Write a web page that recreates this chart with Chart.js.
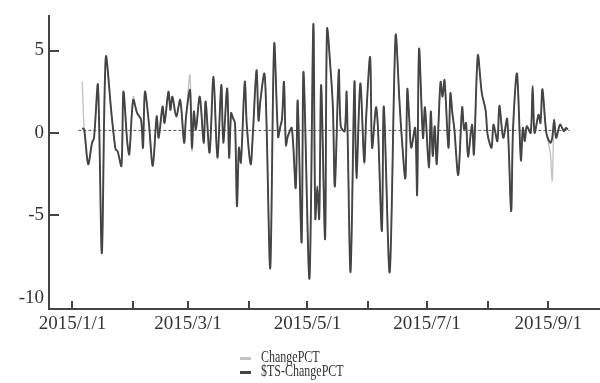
<!DOCTYPE html>
<html>
<head>
<meta charset="utf-8">
<script src="https://cdn.jsdelivr.net/npm/chart.js@4.4.1/dist/chart.umd.min.js"></script>
<style>
  body { margin: 0; background: #fff; }
  #wrap { position: relative; width: 600px; height: 383px; }
  #legend { position: absolute; left: 240px; top: 350px; font-family: "Liberation Serif", serif; font-size: 12px; color: #333; }
  .item { height: 14px; line-height: 14px; white-space: nowrap; }
  .swatch { display: inline-block; width: 11px; height: 3px; vertical-align: middle; margin-right: 10px; }
  .label { display: inline-block; transform: scaleY(1.35); }
</style>
</head>
<body>
<div id="wrap">
  <canvas id="chart" width="600" height="383"></canvas>
  <div id="legend"></div>
</div>
<script>
// days counted from 2015/1/1 (day 0)
let days = [
  5, 6, 8, 10, 11, 13, 15, 17, 20, 22, 23, 25, 26, 28, 29,
  31, 33, 35, 36, 37, 39, 41, 43, 44, 46, 47, 49, 50, 51, 53, 55, 57, 58,
  60, 61, 62, 63, 65, 67, 68, 70, 72, 74, 76, 77, 79, 80, 81, 82, 83, 84, 85, 86, 88,
  89, 91, 92, 94, 95, 96, 98, 99, 101, 103, 105, 106, 107, 108, 109, 110, 112, 114, 115, 117, 118,
  121, 123, 124, 125, 126, 127, 129, 130, 132, 133, 134, 136, 137, 139, 140, 142, 144, 145, 147, 149,
  150, 152, 153, 155, 156, 158, 159, 162, 165, 167, 168, 170, 171, 172, 173, 175, 176, 177, 179,
  180, 182, 183, 184, 185, 186, 187, 188, 189, 190, 192, 193, 194, 195, 197, 199, 200, 201, 202, 204, 205, 207, 209,
  211, 212, 214, 215, 217, 218, 220, 222, 224, 225, 227, 229, 230, 231, 232, 234, 235, 236, 238, 239,
  240, 242, 244, 245, 246, 247, 249, 251, 252, 253
]

// ChangePCT (light line)
let changePct = [
  3.1, 0.2, -1.9, -0.6, -0.3, 2.9, -7.3, 4.6, 1.05, -1.0, -1.1, -2.0, 2.5, -0.6, -1.3,
  2.2, 1.2, 0.8, -0.9, 2.5, 0.6, -2.0, 1.0, -0.3, 1.6, 0.6, 2.5, 1.4, 2.2, 1.0, 2.0, -0.6, 1.0,
  3.5, -1.1, 1.3, 0.2, 2.2, -0.6, 1.9, -1.2, 3.4, -1.5, 2.9, -0.6, 2.7, -1.5, 1.2, 0.9, 0.6, -4.45, -1.0, -1.8, 3.1,
  0.5, -1.9, -0.3, 3.8, 0.75, 2.0, 3.6, 1.0, -8.2, 5.4, -0.25, 0.3, 0.85, 3.1, -0.75, -0.2, 0.3, -3.35, 1.95, -6.65, 3.7,
  -8.85, 6.6, -5.2, -3.25, -5.2, 2.9, -6.45, 6.3, 3.5, 1.5, -3.25, 3.8, 0.4, 0.1, 2.45, -8.45, 3.1, -2.75, 3.0, -1.9,
  1.0, 4.6, -0.9, 1.55, 0.3, -5.95, 1.6, -8.45, 5.9, 1.9, 0.0, -2.75, 2.65, 0.8, -0.9, 0.3, -3.75, 5.1, -0.3,
  1.55, -2.1, 1.3, -1.4, 0.4, -1.9, 0.8, 3.1, 2.2, 3.2, -0.9, 2.4, 1.2, 0.25, -2.55, 1.55, 0.2, 0.6, -1.45, 0.5, -1.3, 4.7, 2.45,
  1.35, -0.1, -0.9, 0.5, -0.5, 1.65, -0.3, 0.85, -4.75, 0.3, 3.6, -1.65, 0.3, -0.5, 0.4, 0.0, 2.85, 0.0, 1.1, 0.6,
  2.65, 0.0, -1.2, -2.9, 0.8, -0.3, 0.5, 0.1, 0.3, 0.2
]

// $TS-ChangePCT (dark line)
let tsChangePct = [
  0.3, 0.2, -1.9, -0.6, -0.3, 2.9, -7.3, 4.6, 1.05, -1.0, -1.1, -2.0, 2.5, -0.6, -1.3,
  2.0, 1.2, 0.8, -0.9, 2.5, 0.6, -2.0, 1.0, -0.3, 1.6, 0.6, 2.5, 1.4, 2.2, 1.0, 2.0, -0.6, 1.0,
  2.6, -0.9, 1.3, 0.2, 2.2, -0.6, 1.9, -1.2, 3.4, -1.5, 2.9, -0.6, 2.7, -1.5, 1.2, 0.9, 0.6, -4.45, -0.9, -1.8, 3.1,
  0.5, -1.9, -0.3, 3.8, 0.75, 2.0, 3.6, 1.0, -8.2, 5.4, -0.25, 0.3, 0.85, 3.1, -0.75, -0.2, 0.3, -3.35, 1.95, -6.65, 3.7,
  -8.85, 6.6, -5.2, -3.25, -5.2, 2.9, -6.45, 6.3, 3.5, 1.5, -3.25, 3.8, 0.4, 0.1, 2.45, -8.45, 3.1, -2.75, 3.0, -1.75,
  1.0, 4.6, -0.9, 1.55, 0.3, -5.95, 1.6, -8.45, 5.9, 1.9, 0.0, -2.75, 2.65, 0.8, -0.9, 0.3, -3.75, 5.1, -0.3,
  1.55, -2.1, 1.3, -1.4, 0.4, -1.9, 0.8, 3.1, 2.2, 3.2, -0.9, 2.4, 1.2, 0.25, -2.55, 1.55, 0.2, 0.6, -1.45, 0.5, -1.3, 4.7, 2.45,
  1.35, -0.1, -0.9, 0.5, -0.5, 1.65, -0.3, 0.85, -4.75, 0.3, 3.6, -1.65, 0.3, -0.5, 0.4, 0.0, 2.85, 0.0, 1.1, 0.6,
  2.65, 0.0, -0.6, -0.3, 0.8, -0.3, 0.5, 0.1, 0.3, 0.2
]

// dotted reference line across the data range
let baselineDays = [3, 254]
let baselineValues = [0.15, 0.15]

// month starts on the x axis and which of them get a label
let monthStarts = [0, 31, 59, 90, 120, 151, 181, 212, 243]
let monthLabels = ['2015/1/1', '', '2015/3/1', '', '2015/5/1', '', '2015/7/1', '', '2015/9/1']
let yTicks = [-10, -5, 0, 5]

let seriesNames = ['ChangePCT', '$TS-ChangePCT']
let seriesColors = ['#c4c4c4', '#444444']

function toPoints(xs, ys) {
    return xs.map(function(x, i) { return { x: x, y: ys[i] } })
}

// tick marks drawn inside the plot, like the original
let inwardTicks = {
    id: 'inwardTicks',
    afterDraw: function(chart) {
        let ctx = chart.ctx
        let xs = chart.scales.x
        let ys = chart.scales.y
        ctx.save()
        ctx.strokeStyle = '#444'
        ctx.lineWidth = 2
        ctx.beginPath()
        xs.ticks.forEach(function(t) {
            let px = Math.round(xs.getPixelForValue(t.value))
            ctx.moveTo(px, xs.top)
            ctx.lineTo(px, xs.top - 8)
        })
        ys.ticks.forEach(function(t) {
            if (t.value === -10) return
            let py = Math.round(ys.getPixelForValue(t.value))
            ctx.moveTo(ys.right, py)
            ctx.lineTo(ys.right + 10, py)
        })
        ctx.stroke()
        ctx.restore()
    }
}

let ctx = document.querySelector('#chart').getContext('2d')

let chart = new Chart(ctx, {
    type: 'line',
    data: {
        datasets: [
            {
                label: seriesNames[0],
                data: toPoints(days, changePct),
                borderColor: seriesColors[0],
                borderWidth: 1.4,
                pointRadius: 0,
                tension: 0.3,
                order: 2
            },
            {
                label: seriesNames[1],
                data: toPoints(days, tsChangePct),
                borderColor: seriesColors[1],
                borderWidth: 1.9,
                pointRadius: 0,
                tension: 0.3,
                order: 1
            },
            {
                label: 'baseline',
                data: toPoints(baselineDays, baselineValues),
                borderColor: '#555',
                borderWidth: 1,
                borderDash: [3, 2],
                pointRadius: 0,
                order: 3
            }
        ]
    },
    options: {
        responsive: false,
        animation: false,
        layout: { padding: { left: 0, right: 0, top: 12, bottom: 48 } },
        plugins: {
            legend: { display: false },
            tooltip: { enabled: false }
        },
        scales: {
            x: {
                type: 'linear',
                min: -12,
                max: 269.4,
                grid: { display: false, drawTicks: false },
                border: { display: true, color: '#444', width: 2 },
                afterBuildTicks: function(scale) {
                    scale.ticks = monthStarts.map(function(v) { return { value: v } })
                },
                afterFit: function(scale) { scale.height = 26 },
                ticks: {
                    autoSkip: false,
                    maxRotation: 0,
                    padding: 4,
                    color: '#333',
                    font: { family: 'Liberation Serif', size: 19 },
                    callback: function(value) {
                        let i = monthStarts.indexOf(value)
                        return i >= 0 ? monthLabels[i] : ''
                    }
                }
            },
            y: {
                min: -10.69,
                max: 7.07,
                grid: { display: false, drawTicks: false },
                border: { display: true, color: '#444', width: 2 },
                afterBuildTicks: function(scale) {
                    scale.ticks = yTicks.map(function(v) { return { value: v } })
                },
                afterFit: function(scale) { scale.width = 49 },
                ticks: {
                    padding: 5,
                    color: '#333',
                    font: { family: 'Liberation Serif', size: 19 }
                }
            }
        }
    },
    plugins: [inwardTicks]
})

// legend below the chart, one entry per line
let legend = document.querySelector('#legend')
seriesNames.forEach(function(name, i) {
    let row = document.createElement('div')
    row.className = 'item'
    let sw = document.createElement('span')
    sw.className = 'swatch'
    sw.style.background = seriesColors[i]
    let tx = document.createElement('span')
    tx.className = 'label'
    tx.textContent = name
    row.appendChild(sw)
    row.appendChild(tx)
    legend.appendChild(row)
})
</script>
</body>
</html>
